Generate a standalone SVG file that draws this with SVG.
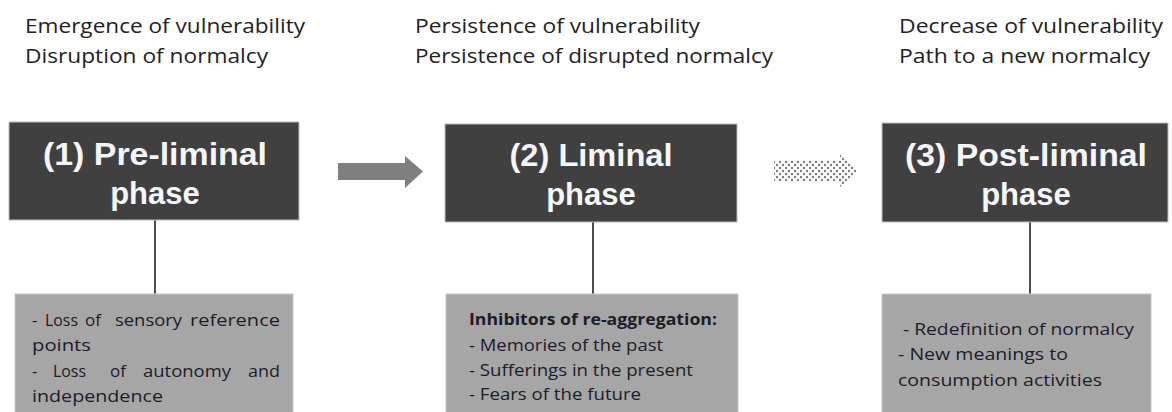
<svg xmlns="http://www.w3.org/2000/svg" width="1172" height="412" viewBox="0 0 1172 412">
<style>
.top{font-family:"Open Sans","Liberation Sans",sans-serif;font-size:20px;fill:#222;}
.ttl{font-family:"Liberation Sans",Arial,sans-serif;font-size:31px;font-weight:bold;fill:#f4f6fa;text-anchor:middle;}
.dark{fill:#404040;stroke:#bdbdbd;stroke-width:1;}
.grey{fill:#a6a6a6;stroke:#c8c8c8;stroke-width:1;}
.body{font-family:"Open Sans","Liberation Sans",sans-serif;font-size:16px;fill:#1c1c2a;}
.b1{font-size:17px;}
.bold{font-weight:bold;}
.conn{stroke:#111;stroke-width:1.5;fill:none;}
</style>
<defs>
<pattern id="dots" width="6" height="6" patternUnits="userSpaceOnUse">
<g fill="#7a7a7a">
<circle cx="0" cy="0" r="1.2"/>
<circle cx="6" cy="0" r="1.2"/>
<circle cx="0" cy="6" r="1.2"/>
<circle cx="6" cy="6" r="1.2"/>
<circle cx="3" cy="3" r="1.2"/>
</g>
</pattern>
</defs>
<rect width="1172" height="412" fill="#fff"/>

<g id="labels-top">
<text class="top" x="25" y="33" textLength="280" lengthAdjust="spacingAndGlyphs">Emergence of vulnerability</text>
<text class="top" x="25" y="63" textLength="243" lengthAdjust="spacingAndGlyphs">Disruption of normalcy</text>
<text class="top" x="415" y="33" textLength="285" lengthAdjust="spacingAndGlyphs">Persistence of vulnerability</text>
<text class="top" x="415" y="63" textLength="358" lengthAdjust="spacingAndGlyphs">Persistence of disrupted normalcy</text>
<text class="top" x="899" y="33" textLength="264" lengthAdjust="spacingAndGlyphs">Decrease of vulnerability</text>
<text class="top" x="899" y="63" textLength="251" lengthAdjust="spacingAndGlyphs">Path to a new normalcy</text>
</g>

<g id="connectors">
<line class="conn" x1="155" y1="220" x2="155" y2="294"/>
<line class="conn" x1="593" y1="222" x2="593" y2="294"/>
<line class="conn" x1="1030" y1="222" x2="1030" y2="294"/>
<polygon id="arrow-solid" points="338,163 405,163 405,156 423,171.5 405,188 405,180 338,180" fill="#7f7f7f"/>
<polygon id="arrow-dotted" points="774,160 840,160 840,154 858,170.5 840,187 840,181 774,181" fill="url(#dots)"/>
</g>

<g id="phase1">
<rect class="dark" x="9" y="122" width="290" height="98"/>
<text class="ttl" x="155" y="165" textLength="224" lengthAdjust="spacingAndGlyphs">(1) Pre-liminal</text>
<text class="ttl" x="155" y="204">phase</text>
</g>
<g id="phase2">
<rect class="dark" x="445" y="124" width="292" height="98"/>
<text class="ttl" x="591" y="166" textLength="163" lengthAdjust="spacingAndGlyphs">(2) Liminal</text>
<text class="ttl" x="591" y="205">phase</text>
</g>
<g id="phase3">
<rect class="dark" x="882" y="123" width="286" height="99"/>
<text class="ttl" x="1026" y="166" textLength="242" lengthAdjust="spacingAndGlyphs">(3) Post-liminal</text>
<text class="ttl" x="1026" y="205">phase</text>
</g>

<g id="details1">
<rect class="grey" x="15" y="294" width="278" height="125"/>
<text class="body b1" y="326"><tspan x="32">-</tspan><tspan x="45" textLength="33" lengthAdjust="spacingAndGlyphs">Loss</tspan><tspan x="85">of</tspan><tspan x="115" textLength="67" lengthAdjust="spacingAndGlyphs">sensory</tspan><tspan x="190" textLength="90" lengthAdjust="spacingAndGlyphs">reference</tspan></text>
<text class="body b1" x="32" y="351" textLength="59" lengthAdjust="spacingAndGlyphs">points</text>
<text class="body b1" y="377"><tspan x="32">-</tspan><tspan x="53" textLength="33" lengthAdjust="spacingAndGlyphs">Loss</tspan><tspan x="110">of</tspan><tspan x="143" textLength="88" lengthAdjust="spacingAndGlyphs">autonomy</tspan><tspan x="248" textLength="32" lengthAdjust="spacingAndGlyphs">and</tspan></text>
<text class="body b1" x="32" y="402" textLength="131" lengthAdjust="spacingAndGlyphs">independence</text>
</g>

<g id="details2">
<rect class="grey" x="446" y="294" width="292" height="125"/>
<text class="body bold" x="469" y="325" textLength="248" lengthAdjust="spacingAndGlyphs">Inhibitors of re-aggregation:</text>
<text class="body" x="469" y="351" textLength="194" lengthAdjust="spacingAndGlyphs">- Memories of the past</text>
<text class="body" x="469" y="376" textLength="224" lengthAdjust="spacingAndGlyphs">- Sufferings in the present</text>
<text class="body" x="469" y="400" textLength="172" lengthAdjust="spacingAndGlyphs">- Fears of the future</text>
</g>

<g id="details3">
<rect class="grey" x="882" y="294" width="269" height="125"/>
<text class="body" x="903" y="335" textLength="231" lengthAdjust="spacingAndGlyphs">- Redefinition of normalcy</text>
<text class="body" x="898" y="360" textLength="170" lengthAdjust="spacingAndGlyphs">- New meanings to</text>
<text class="body" x="898" y="386" textLength="204" lengthAdjust="spacingAndGlyphs">consumption activities</text>
</g>
</svg>
